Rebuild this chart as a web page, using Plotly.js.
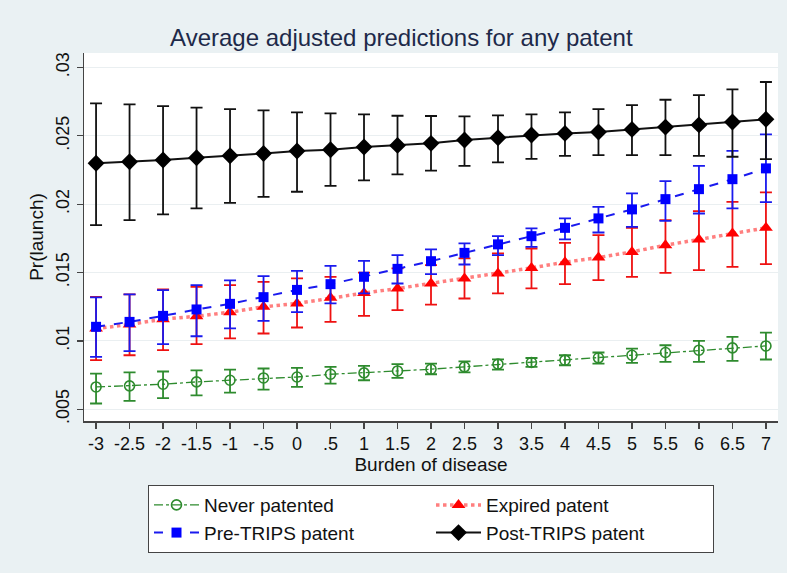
<!DOCTYPE html>
<html>
<head>
<meta charset="utf-8">
<script src="https://cdn.plot.ly/plotly-3.0.1.min.js"></script>
<style>html,body{margin:0;padding:0;background:#eaf1f3;}#chart{width:787px;height:573px;}</style>
</head>
<body>
<div id="chart"></div>
<script>
var burden = [-3,-2.5,-2,-1.5,-1,-0.5,0,0.5,1,1.5,2,2.5,3,3.5,4,4.5,5,5.5,6,6.5,7];
var tickLabels = ["-3","-2.5","-2","-1.5","-1","-.5","0",".5","1","1.5","2","2.5","3","3.5","4","4.5","5","5.5","6","6.5","7"];

var neverMean = [.00663,.00671,.00683,.0070,.00712,.00729,.00736,.00756,.00766,.0078,.00793,.0081,.0083,.00842,.00859,.00876,.00895,.00915,.00932,.00949,.00963];
var neverHigh = [.00761,.00769,.00776,.00785,.0079,.00798,.00802,.0081,.00817,.0083,.00834,.0085,.00865,.00875,.00895,.00915,.00944,.00968,.0100,.01029,.01061];
var neverLow  = [.00542,.00561,.00581,.00602,.00622,.00644,.00663,.00688,.00712,.0073,.00756,.0077,.0079,.0081,.00822,.00834,.00839,.00846,.00846,.00854,.00864];

var expiredMean = [.0109,.0112,.01159,.0118,.0121,.01249,.01274,.01315,.0135,.01383,.0142,.01457,.01493,.01534,.01576,.0161,.01651,.017,.01742,.01786,.01827];
var expiredHigh = [.01322,.0134,.01376,.01395,.01408,.01432,.01457,.01469,.0150,.0153,.01554,.01603,.0164,.01676,.01717,.01774,.01827,.01883,.01949,.02017,.02086];
var expiredLow  = [.00859,.00895,.00932,.00976,.01018,.01054,.01098,.01139,.01183,.01225,.01266,.0131,.01347,.01384,.01415,.01444,.01469,.01498,.01517,.01542,.01561];

var preMean = [.01103,.01139,.01183,.0123,.01271,.0132,.01373,.01415,.01469,.01527,.01583,.01644,.01706,.01766,.01827,.01896,.01962,.02037,.0211,.02183,.02262];
var preHigh = [.01318,.0134,.01371,.01408,.01442,.01474,.01512,.01549,.01586,.01627,.01669,.01713,.01766,.01823,.01896,.01981,.02079,.02169,.02281,.0239,.02511];
var preLow  = [.00883,.00925,.00976,.01034,.01091,.01146,.0121,.01274,.01347,.0142,.01488,.01559,.01627,.01688,.01742,.01793,.01834,.01878,.01932,.01969,.02015];

var postMean = [.02299,.0231,.02323,.0234,.02354,.02371,.02389,.02398,.02418,.0243,.02445,.0247,.02486,.02506,.02518,.02528,.02547,.02564,.0258,.02601,.02621];
var postHigh = [.02738,.0273,.02718,.02706,.02696,.02686,.02672,.02665,.02657,.02647,.02645,.02642,.0265,.02657,.02672,.02696,.02725,.02764,.02798,.0284,.02894];
var postLow  = [.01847,.01884,.01925,.0197,.0201,.02054,.02091,.02134,.02174,.02218,.02245,.02281,.02306,.02332,.02354,.02359,.02359,.02359,.02354,.02347,.0233];

var yTicks = [.005,.01,.015,.02,.025,.03];
var yTickLabels = [".005",".01",".015",".02",".025",".03"];

function diff(a,b){return a.map(function(v,i){return +(v-b[i]).toFixed(6);});}

var FONT = "Liberation Sans, Arial, Helvetica, sans-serif";

function trace(name, mean, hi, lo, lineColor, lineDash, lineWidth, sym, msize, mcolor, mline, barColor){
  return {
    x: burden, y: mean, name: name, type: 'scatter', mode: 'lines+markers',
    line: {color: lineColor, dash: lineDash, width: lineWidth},
    marker: {symbol: sym, size: msize, color: mcolor, line: mline},
    error_y: {type: 'data', symmetric: false, array: diff(hi, mean), arrayminus: diff(mean, lo),
      color: barColor, thickness: 1.8, width: 6}
  };
}

var data = [
  trace('Never patented', neverMean, neverHigh, neverLow, '#2e8b2e', 'dashdot', 1.3, 'circle-open', 10, '#2e8b2e', {color:'#2e8b2e', width:1.6}, '#2e8b2e'),
  trace('Expired patent', expiredMean, expiredHigh, expiredLow, '#ff7f7f', 'dot', 3.5, 'triangle-up', 12, '#ff0000', {width:0}, '#ee1111'),
  trace('Pre-TRIPS patent', preMean, preHigh, preLow, '#1a1aee', 'dash', 2, 'square', 10, '#0000ff', {width:0}, '#1a1aee'),
  trace('Post-TRIPS patent', postMean, postHigh, postLow, '#111111', 'solid', 2, 'diamond', 13, '#000000', {width:0}, '#111111')
];

var layout = {
  width: 787, height: 573,
  paper_bgcolor: '#eaf1f3', plot_bgcolor: '#ffffff',
  margin: {l: 84, r: 9, t: 53, b: 152},
  font: {family: FONT, color: '#111111'},
  title: {text: 'Average adjusted predictions for any patent', font: {family: FONT, size: 24, color: '#1e2a4a'},
    x: 0.51, xanchor: 'center', y: 0.934, yanchor: 'middle', yref: 'container'},
  xaxis: {range: [-3.18, 7.18], tickvals: burden, ticktext: tickLabels, showgrid: false, zeroline: false,
    ticks: 'outside', ticklen: 6, tickwidth: 1.3, tickcolor: '#444', showline: true, linecolor: '#444', linewidth: 1.5,
    tickfont: {family: FONT, size: 18, color: '#111'},
    title: {text: 'Burden of disease', font: {family: FONT, size: 19, color: '#111'}, standoff: 4}},
  yaxis: {range: [.00414, .03106], tickvals: yTicks, ticktext: yTickLabels, tickangle: -90,
    showgrid: true, gridcolor: '#eaeff1', gridwidth: 1, zeroline: false,
    ticks: 'outside', ticklen: 6, tickwidth: 1.3, tickcolor: '#444', showline: true, linecolor: '#444', linewidth: 1.5,
    tickfont: {family: FONT, size: 18, color: '#111'},
    title: {text: 'Pr(launch)', font: {family: FONT, size: 19, color: '#111'}, standoff: 4}},
  showlegend: true,
  legend: {orientation: 'h', x: 0.5, xanchor: 'center', y: -0.174, yanchor: 'top',
    bgcolor: '#ffffff', bordercolor: '#444', borderwidth: 1,
    entrywidth: 222, entrywidthmode: 'pixels', traceorder: 'normal', itemwidth: 45,
    font: {family: FONT, size: 19, color: '#111'}}
};

Plotly.newPlot('chart', data, layout, {displayModeBar: false, staticPlot: true});
</script>
</body>
</html>
